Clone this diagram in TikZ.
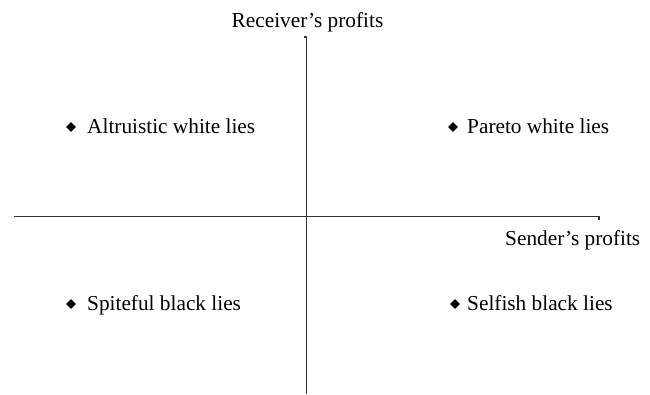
\documentclass[tikz,border=0pt]{standalone}
\usepackage{fontspec}
\setmainfont{Liberation Serif}
\usetikzlibrary{shapes.geometric}
\tikzset{
  axis/.style={line width=1.2pt, draw=black!80},
  lbl/.style={anchor=base west, inner sep=0pt, font=\fontsize{21.3}{24}\selectfont},
  axlbl/.style={inner sep=0pt, font=\fontsize{21.3}{24}\selectfont},
  bullet/.style={diamond, fill=black, inner sep=0pt, minimum size=10pt}
}
\begin{document}
\begin{tikzpicture}[x=1pt,y=-1pt]
\useasboundingbox (0,0) rectangle (650,394);
% axes
\coordinate (vtop) at (306.5,37);
\coordinate (vbot) at (306.5,394);
\coordinate (hl) at (14,216.5);
\coordinate (hr) at (599,216.5);
\draw[axis] ([xshift=-3pt]vtop) -- (vtop) -- (vbot);
\draw[axis] (hl) -- (hr) -- ([yshift=-3pt]hr);
% axis labels
\node[axlbl, anchor=base] (ylab) at (307.5,27) {Receiver’s profits};
\node[axlbl, anchor=base west] (xlab) at (505,245) {Sender’s profits};
% quadrants
\node[bullet] (d1) at (71,127) {};
\node[lbl] (t1) at (87,133) {Altruistic white lies};
\node[bullet] (d2) at (453,127) {};
\node[lbl] (t2) at (467,133) {Pareto white lies};
\node[bullet] (d3) at (71,304) {};
\node[lbl] (t3) at (87,310) {Spiteful black lies};
\node[bullet] (d4) at (455,304) {};
\node[lbl] (t4) at (467,310) {Selfish black lies};
\end{tikzpicture}
\end{document}
